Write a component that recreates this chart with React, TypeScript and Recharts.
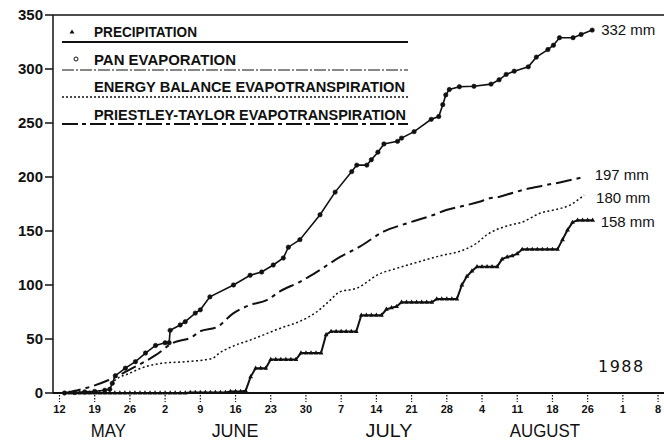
import { LineChart, Line, XAxis, YAxis, ReferenceLine, LabelList } from "recharts";

// days counted from 12 May 1988 (day 0)
const WEEK_DAYS = [0, 7, 14, 21, 28, 35, 42, 49, 56, 63, 70, 77, 84, 91, 98, 105, 112, 119];
const WEEK_LABELS = ["12", "19", "26", "2", "9", "16", "23", "30", "7", "14", "21", "28", "4", "11", "18", "26", "1", "8"];
const MONTH_DAYS = [9.7, 34.9, 65.5, 96.5];
const MONTH_LABELS = ["MAY", "JUNE", "JULY", "AUGUST"];
const MM_TICKS = [0, 50, 100, 150, 200, 250, 300, 350];

// cumulative precipitation, one value a day from day 2 (14 May)
const PRECIP_FIRST_DAY = 2;
const PRECIP_MM = [
  0, 0, 0, 0, 0, 0, 0, 0,
  0, 0, 0, 0, 0, 0, 0, 0, 0, 0, 0, 0, 0, 0, 0, 0,
  0.5, 0.5, 0.5, 0.5, 0.5, 0.5, 0.5, 0.5,
  1.5, 1.5, 1.5,
  2, 15, 23, 23, 23,
  31, 31, 31, 31, 31, 31,
  37, 37, 37, 37, 37,
  54, 57, 57, 57, 57, 57, 57,
  72, 72, 72, 72, 72,
  77.5, 79, 80, 84, 84, 84, 84, 84, 84, 84,
  87, 87, 87, 87, 87,
  100, 108, 113, 117, 117, 117, 117, 117,
  124, 126, 127, 129, 133,
  133, 133, 133, 133, 133, 133, 133,
  142, 151, 158, 160, 160, 160, 160,
];

const PAN_DAY = [
  1, 3, 5, 7, 9, 10, 10.5, 11.1, 13.1, 15.1, 17.1, 19.1, 21, 21.8, 22, 24, 25, 27, 28, 29.9,
  34.6, 37.9, 40.2, 42.5, 44.5, 45.5, 47.8, 51.8, 54.8, 58.1, 59.1, 61.1, 62, 63.3, 64.5, 67.2,
  68, 70.5, 73.9, 75.4, 76.2, 76.8, 77.5, 79.5, 82.4, 85.8, 87.4, 88.8, 90.4, 93.2, 94.8, 97.1,
  98.2, 99.4, 102.1, 103.7, 105.9,
];
const PAN_MM = [
  0, 0.5, 1, 1.5, 2.5, 3.5, 9, 16, 23, 29, 37, 44, 46.5, 46.5, 58, 63, 66, 74, 77, 89,
  100, 109, 112, 118.5, 125, 135, 142, 165, 186, 205, 211, 211, 216, 223, 230.6, 233,
  236, 242, 253.4, 256, 267, 276, 281, 283.6, 284, 286, 290, 295, 298, 302, 311, 318,
  322, 329, 329, 332, 336,
];

const EB_DAY = [
  10.3, 11.1, 13.8, 17.1, 20.4, 25.1, 30.4, 31.7, 34.3, 37.9, 44.5, 47.6, 51.1, 53.6, 55.8,
  59.1, 63.5, 67, 70.3, 75.6, 80.3, 82.9, 84.9, 88.9, 92.2, 95.5, 98.8, 101.5, 103.5, 104.3,
];
const EB_MM = [
  8, 12, 18, 24.4, 27.5, 29, 32, 36.7, 43, 49, 61, 66, 75, 85, 93.8,
  97, 110, 115.4, 120, 126.9, 132.4, 138.6, 146.3, 154.6, 158.6, 166.4, 170, 174, 180.3, 183.3,
];

const PT_DAY = [
  1.1, 5.1, 9.8, 14.4, 19.1, 22.4, 26.4, 27.9, 31.3, 34.6, 37.9, 41.2, 43.8, 47.8, 51.1,
  55.8, 59.7, 64.4, 69, 74.3, 76.9, 80.2, 83.5, 85.5, 87.5, 90.2, 93.5, 96.8, 100.1, 104.4,
];
const PT_MM = [
  0, 4.3, 12, 22.8, 35, 46, 52, 57, 61, 74, 81.5, 86, 94, 103, 112,
  126, 135.5, 149.4, 157, 164.8, 169.4, 173.1, 177.1, 180.3, 181.8, 185.5, 189.5, 192.6, 195.6, 200.3,
];

const precipData = PRECIP_MM.map((mm, i) => ({ day: PRECIP_FIRST_DAY + i, mm }));
const panData = PAN_DAY.map((day, i) => ({ day, mm: PAN_MM[i] }));
const ebData = EB_DAY.map((day, i) => ({ day, mm: EB_MM[i] }));
const ptData = PT_DAY.map((day, i) => ({ day, mm: PT_MM[i] }));

const X_DOMAIN = [-1.29, 120.18];
const PLOT_LEFT = 53;
const PLOT_RIGHT = 664;
const SANS = "'Liberation Sans', Arial, Helvetica, sans-serif";
const NARROW = "'Liberation Sans Narrow', 'Arial Narrow', 'Liberation Sans', sans-serif";
const INK = "#111";

const dayToPx = (d: number) =>
  PLOT_LEFT + ((d - X_DOMAIN[0]) / (X_DOMAIN[1] - X_DOMAIN[0])) * (PLOT_RIGHT - PLOT_LEFT);

function WeekTick({ x, y, payload }: any) {
  const i = WEEK_DAYS.indexOf(payload.value);
  return (
    <g>
      <line x1={x} x2={x} y1={y - 6} y2={y + 1} stroke={INK} strokeWidth={1.2} strokeDasharray="1.5 1.5" />
      <text x={x} y={y + 12} textAnchor="middle" fontFamily={SANS} fontWeight="bold" fontSize={11} fill={INK}>
        {WEEK_LABELS[i]}
      </text>
    </g>
  );
}

function triangleDot(p: any) {
  const { cx, cy, index } = p;
  return (
    <path key={`tri-${index}`} d={`M${cx},${cy - 2.7}L${cx + 2.4},${cy + 1.5}L${cx - 2.4},${cy + 1.5}Z`} fill={INK} />
  );
}

function endLabel(text: string, last: number, dx: number, dy: number) {
  return (p: any) =>
    p.index === last ? (
      <text x={p.x + dx} y={p.y + dy} fontFamily={SANS} fontSize={15} fill={INK}>
        {text}
      </text>
    ) : null;
}

function Overlay() {
  const rows = [
    { text: "PRECIPITATION", base: 37, width: 103, line: 42, dash: undefined, sw: 2 },
    { text: "PAN EVAPORATION", base: 65, width: 142, line: 70, dash: "12 2 2 2", sw: 1.2 },
    { text: "ENERGY BALANCE EVAPOTRANSPIRATION", base: 92, width: 311, line: 97, dash: "2 2", sw: 1.5 },
    { text: "PRIESTLEY-TAYLOR EVAPOTRANSPIRATION", base: 120, width: 312, line: 124, dash: "16 4 4 4", sw: 2 },
  ];
  return (
    <svg width={664} height={443} style={{ position: "absolute", left: 0, top: 0, pointerEvents: "none" }}>
      <path d="M72,29.5L74.5,33.5L69.5,33.5Z" fill={INK} />
      <circle cx={76} cy={59} r={2} fill="none" stroke={INK} strokeWidth={1} />
      {rows.map((r) => (
        <g key={r.text}>
          <text
            x={94}
            y={r.base}
            fontFamily={NARROW}
            fontWeight="bold"
            fontSize={14.5}
            fill={INK}
            textLength={r.width}
            lengthAdjust="spacingAndGlyphs"
          >
            {r.text}
          </text>
          <line x1={62} x2={408} y1={r.line} y2={r.line} stroke={INK} strokeWidth={r.sw} strokeDasharray={r.dash} />
        </g>
      ))}
      {MONTH_LABELS.map((m, i) => (
        <text
          key={m}
          x={dayToPx(MONTH_DAYS[i])}
          y={437}
          textAnchor="middle"
          fontFamily={NARROW}
          fontSize={19}
          fill={INK}
          textLength={m.length * 11.7}
          lengthAdjust="spacingAndGlyphs"
        >
          {m}
        </text>
      ))}
      <text x={598} y={372} fontFamily="'DejaVu Sans', sans-serif" fontSize={16} letterSpacing={1.5} fill={INK}>
        1988
      </text>
    </svg>
  );
}

export default function App() {
  return (
    <div style={{ position: "absolute", left: 0, top: 0, width: 664, height: 443, background: "#fff" }}>
      <LineChart width={664} height={443} margin={{ top: 15, right: 0, bottom: 0, left: 0 }}>
        <XAxis
          dataKey="day"
          type="number"
          domain={X_DOMAIN}
          allowDataOverflow
          ticks={WEEK_DAYS}
          interval={0}
          tick={<WeekTick />}
          tickLine={false}
          axisLine={{ stroke: INK, strokeWidth: 2 }}
          height={50}
        />
        <YAxis
          dataKey="mm"
          type="number"
          domain={[0, 350]}
          ticks={MM_TICKS}
          interval={0}
          width={53}
          tickSize={8}
          tickLine={{ stroke: INK, strokeWidth: 1.5 }}
          axisLine={{ stroke: INK, strokeWidth: 1.5 }}
          tick={{ fontFamily: SANS, fontWeight: "bold", fontSize: 15, fill: INK }}
        />
        <ReferenceLine y={350} stroke={INK} strokeWidth={1.5} />
        <Line
          data={ptData}
          dataKey="mm"
          type="monotone"
          stroke={INK}
          strokeWidth={2}
          strokeDasharray="16 5 4 5"
          dot={false}
          isAnimationActive={false}
        >
          <LabelList dataKey="mm" content={endLabel("197 mm", ptData.length - 1, 10, 3)} />
        </Line>
        <Line
          data={ebData}
          dataKey="mm"
          type="monotone"
          stroke={INK}
          strokeWidth={1.5}
          strokeDasharray="2 2.5"
          dot={false}
          isAnimationActive={false}
        >
          <LabelList dataKey="mm" content={endLabel("180 mm", ebData.length - 1, 12, 8)} />
        </Line>
        <Line
          data={precipData}
          dataKey="mm"
          type="linear"
          stroke={INK}
          strokeWidth={2}
          dot={triangleDot}
          isAnimationActive={false}
        >
          <LabelList dataKey="mm" content={endLabel("158 mm", precipData.length - 1, 8, 7)} />
        </Line>
        <Line
          data={panData}
          dataKey="mm"
          type="linear"
          stroke={INK}
          strokeWidth={1.6}
          dot={{ r: 2.2, fill: INK, stroke: INK, strokeWidth: 0.6 }}
          isAnimationActive={false}
        >
          <LabelList dataKey="mm" content={endLabel("332 mm", panData.length - 1, 9, 5)} />
        </Line>
      </LineChart>
      <Overlay />
    </div>
  );
}
